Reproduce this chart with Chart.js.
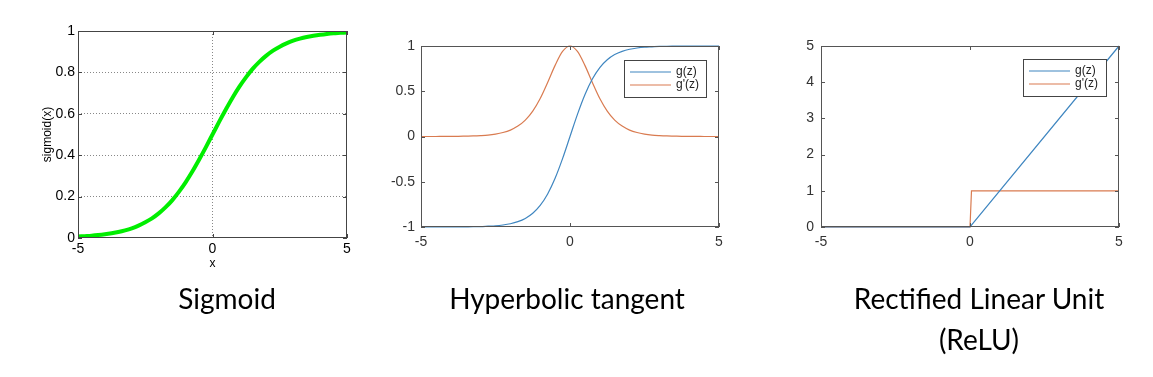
<!DOCTYPE html>
<html>
<head>
<meta charset="utf-8">
<script src="https://cdn.jsdelivr.net/npm/chart.js@4.4.0/dist/chart.umd.min.js"></script>
<style>
	body { margin:0; background:#fff; width:1153px; height:377px; position:relative; overflow:hidden; }
	.box { position:absolute; top:0; height:280px; }
	.cap { position:absolute; font-family:Lato, sans-serif; font-size:28px; color:#000; text-align:center; line-height:41px; white-space:nowrap; }
</style>
</head>
<body>
<div class="box" style="left:0;width:380px"><canvas id="c1" width="380" height="280"></canvas></div>
<div class="box" style="left:380px;width:385px"><canvas id="c2" width="385" height="280"></canvas></div>
<div class="box" style="left:770px;width:383px"><canvas id="c3" width="383" height="280"></canvas></div>

<div class="cap" style="left:127px;width:200px;top:278px">Sigmoid</div>
<div class="cap" style="left:417px;width:300px;top:278px">Hyperbolic tangent</div>
<div class="cap" style="left:829px;width:300px;top:278px">Rectified Linear Unit<br>(ReLU)</div>

<script>
	// 데이터
	var xs = [-5, -4.75, -4.5, -4.25, -4, -3.75, -3.5, -3.25, -3, -2.75, -2.5, -2.25, -2, -1.75, -1.5, -1.25, -1, -0.75, -0.5, -0.25,
		0, 0.25, 0.5, 0.75, 1, 1.25, 1.5, 1.75, 2, 2.25, 2.5, 2.75, 3, 3.25, 3.5, 3.75, 4, 4.25, 4.5, 4.75, 5];
	var sigmoidY = [0.007, 0.009, 0.011, 0.014, 0.018, 0.023, 0.029, 0.037, 0.047, 0.060, 0.076, 0.095, 0.119, 0.148, 0.182, 0.223, 0.269, 0.321, 0.378, 0.438,
		0.5, 0.562, 0.622, 0.679, 0.731, 0.777, 0.818, 0.852, 0.881, 0.905, 0.924, 0.940, 0.953, 0.963, 0.971, 0.977, 0.982, 0.986, 0.989, 0.991, 0.993];
	var tanhY = [-1, -1, -1, -1, -0.999, -0.999, -0.998, -0.997, -0.995, -0.991, -0.987, -0.978, -0.964, -0.941, -0.905, -0.848, -0.762, -0.635, -0.462, -0.245,
		0, 0.245, 0.462, 0.635, 0.762, 0.848, 0.905, 0.941, 0.964, 0.978, 0.987, 0.991, 0.995, 0.997, 0.998, 0.999, 0.999, 1, 1, 1, 1];
	var tanhD = [0, 0, 0, 0.001, 0.001, 0.002, 0.004, 0.006, 0.010, 0.016, 0.027, 0.044, 0.071, 0.115, 0.181, 0.281, 0.420, 0.597, 0.786, 0.940,
		1, 0.940, 0.786, 0.597, 0.420, 0.281, 0.181, 0.115, 0.071, 0.044, 0.027, 0.016, 0.010, 0.006, 0.004, 0.002, 0.001, 0.001, 0, 0, 0];
	var reluX = [-5, 0, 5];
	var reluY = [0, 0, 5];
	var reluDX = [-5, 0, 0.05, 5];
	var reluDY = [0, 0, 1, 1];
	var labels = ["g(z)", "g'(z)"];

	var BLUE = "#3f86c0";
	var ORANGE = "#d97b50";

	function pts(x, y) {
		return x.map(function (v, i) { return { x: v, y: y[i] }; });
	}

	function fmt(v) {
		return String(Math.round(v * 10) / 10);
	}

	// 박스 + 안쪽 눈금 + 범례
	var matlabBox = {
		id: "matlabBox",
		afterDraw: function (chart, args, opts) {
			var ctx = chart.ctx;
			var a = chart.chartArea;
			var sx = chart.scales.x, sy = chart.scales.y;
			ctx.save();
			ctx.strokeStyle = opts.color || "#555";
			ctx.lineWidth = 1;
			ctx.strokeRect(a.left + 0.5, a.top + 0.5, a.right - a.left - 1, a.bottom - a.top - 1);
			var t = 4;
			ctx.beginPath();
			sx.ticks.forEach(function (tk) {
				var px = Math.round(sx.getPixelForValue(tk.value)) + 0.5;
				ctx.moveTo(px, a.bottom); ctx.lineTo(px, a.bottom - t);
				ctx.moveTo(px, a.top); ctx.lineTo(px, a.top + t);
			});
			sy.ticks.forEach(function (tk) {
				var py = Math.round(sy.getPixelForValue(tk.value)) + 0.5;
				ctx.moveTo(a.left, py); ctx.lineTo(a.left + t, py);
				ctx.moveTo(a.right, py); ctx.lineTo(a.right - t, py);
			});
			ctx.stroke();

			if (opts.legend) {
				var w = opts.legend.w, h = 37;
				var lx = a.right - opts.legend.dx - w, ly = a.top + opts.legend.dy;
				ctx.fillStyle = "#fff";
				ctx.fillRect(lx, ly, w, h);
				ctx.strokeStyle = "#444";
				ctx.strokeRect(lx + 0.5, ly + 0.5, w, h);
				ctx.font = "12px 'Liberation Sans', Arial, sans-serif";
				ctx.textBaseline = "middle";
				chart.data.datasets.forEach(function (ds, i) {
					var yy = ly + 12 + i * 13;
					ctx.strokeStyle = ds.borderColor;
					ctx.lineWidth = 1.2;
					ctx.beginPath();
					ctx.moveTo(lx + 6, yy); ctx.lineTo(lx + 47, yy);
					ctx.stroke();
					ctx.fillStyle = "#222";
					ctx.fillText(ds.label, lx + 52, yy);
				});
			}
			ctx.restore();
		}
	};

	var FAMILY = "'Liberation Sans', Arial, sans-serif";
	var tickFont = { family: FAMILY, size: 14 };

	// 1. Sigmoid
	new Chart(document.getElementById("c1"), {
		type: "line",
		data: {
			datasets: [{
				data: pts(xs, sigmoidY),
				borderColor: "#00ee00",
				borderWidth: 4,
				pointRadius: 0,
				cubicInterpolationMode: "monotone"
			}]
		},
		options: {
			responsive: false,
			animation: false,
			layout: { padding: { top: 31, right: 33, left: 0, bottom: 0 } },
			plugins: { legend: { display: false }, tooltip: { enabled: false }, matlabBox: { color: "#444" } },
			scales: {
				x: {
					type: "linear", min: -5, max: 5,
					afterFit: function (s) { s.height = 42; },
					ticks: { stepSize: 5, color: "#000", padding: 3, font: tickFont, callback: fmt },
					border: { display: false, dash: [1, 2] },
					grid: {
						drawTicks: false,
						color: function (c) { return c.tick.value === 0 ? "#888" : "rgba(0,0,0,0)"; }
					},
					title: { display: true, text: "x", color: "#000", font: { family: FAMILY, size: 12 }, padding: { top: 0, bottom: 9 } }
				},
				y: {
					min: 0, max: 1,
					afterFit: function (s) { s.width = 78; },
					ticks: { stepSize: 0.2, color: "#000", padding: 3, font: tickFont, callback: fmt },
					border: { display: false, dash: [1, 2] },
					grid: {
						drawTicks: false,
						color: function (c) { return (c.tick.value > 0.01 && c.tick.value < 0.99) ? "#888" : "rgba(0,0,0,0)"; }
					},
					title: { display: true, text: "sigmoid(x)", color: "#000", font: { family: FAMILY, size: 12 }, padding: { top: 40, bottom: 0 } }
				}
			}
		},
		plugins: [matlabBox]
	});

	// 2. tanh
	new Chart(document.getElementById("c2"), {
		type: "line",
		data: {
			datasets: [{
				label: labels[0],
				data: pts(xs, tanhY),
				borderColor: BLUE,
				borderWidth: 1.2,
				pointRadius: 0,
				clip: 2,
				cubicInterpolationMode: "monotone"
			}, {
				label: labels[1],
				data: pts(xs, tanhD),
				borderColor: ORANGE,
				borderWidth: 1.2,
				pointRadius: 0,
				clip: 2,
				cubicInterpolationMode: "monotone"
			}]
		},
		options: {
			responsive: false,
			animation: false,
			layout: { padding: { top: 46, right: 46, left: 0, bottom: 0 } },
			plugins: { legend: { display: false }, tooltip: { enabled: false }, matlabBox: { color: "#555", legend: { w: 82, dx: 13, dy: 14 } } },
			scales: {
				x: {
					type: "linear", min: -5, max: 5,
					afterFit: function (s) { s.height = 53; },
					ticks: { stepSize: 5, color: "#333", padding: 7, font: tickFont, callback: fmt },
					border: { display: false },
					grid: { display: false, drawTicks: false }
				},
				y: {
					min: -1, max: 1,
					afterFit: function (s) { s.width = 41; },
					ticks: { stepSize: 0.5, color: "#333", padding: 6, font: tickFont, callback: fmt },
					border: { display: false },
					grid: { display: false, drawTicks: false }
				}
			}
		},
		plugins: [matlabBox]
	});

	// 3. ReLU
	new Chart(document.getElementById("c3"), {
		type: "line",
		data: {
			datasets: [{
				label: labels[0],
				data: pts(reluX, reluY),
				borderColor: BLUE,
				borderWidth: 1.2,
				pointRadius: 0,
				clip: 2
			}, {
				label: labels[1],
				data: pts(reluDX, reluDY),
				borderColor: ORANGE,
				borderWidth: 1.2,
				pointRadius: 0,
				clip: 2
			}]
		},
		options: {
			responsive: false,
			animation: false,
			layout: { padding: { top: 46, right: 34, left: 0, bottom: 0 } },
			plugins: { legend: { display: false }, tooltip: { enabled: false }, matlabBox: { color: "#555", legend: { w: 83, dx: 13, dy: 13 } } },
			scales: {
				x: {
					type: "linear", min: -5, max: 5,
					afterFit: function (s) { s.height = 53; },
					ticks: { stepSize: 5, color: "#333", padding: 7, font: tickFont, callback: fmt },
					border: { display: false },
					grid: { display: false, drawTicks: false }
				},
				y: {
					min: 0, max: 5,
					afterFit: function (s) { s.width = 51; },
					ticks: { stepSize: 1, color: "#333", padding: 7, font: tickFont, callback: fmt },
					border: { display: false },
					grid: { display: false, drawTicks: false }
				}
			}
		},
		plugins: [matlabBox]
	});
</script>
</body>
</html>
